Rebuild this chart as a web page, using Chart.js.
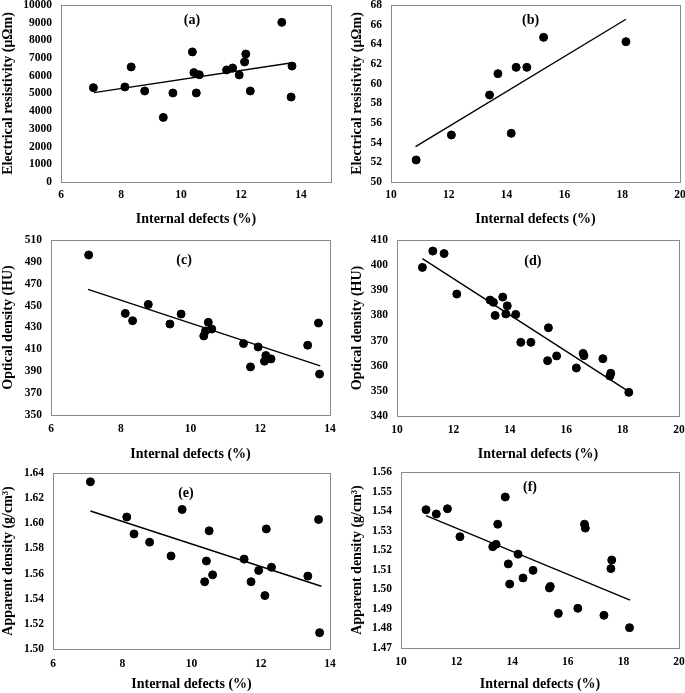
<!DOCTYPE html>
<html lang="en">
<head>
<meta charset="UTF-8">
<title>Internal defects vs. properties</title>
<script src="https://cdn.jsdelivr.net/npm/chart.js@4.4.0/dist/chart.umd.min.js"></script>
<style>
  html, body { margin: 0; padding: 0; background: #fff; overflow: hidden; }
  body { width: 685px; height: 693px; position: relative; }
  canvas { position: absolute; }
</style>
</head>
<body>
<canvas id="ca" width="342" height="228" style="left:0;top:0"></canvas>
<canvas id="cb" width="336" height="228" style="left:349px;top:0"></canvas>
<canvas id="cc" width="340" height="231" style="left:0;top:232px"></canvas>
<canvas id="cd" width="336" height="231" style="left:349px;top:232px"></canvas>
<canvas id="ce" width="340" height="228" style="left:0;top:465px"></canvas>
<canvas id="cf" width="336" height="228" style="left:349px;top:465px"></canvas>

<script>
// specimens shown in (a), (c), (e)
const defectsACE = [7.08, 8.13, 8.34, 8.79, 9.41, 9.73, 10.38, 10.43, 10.51, 10.61, 11.52, 11.72, 11.94, 12.12, 12.16, 12.31, 13.36, 13.67, 13.70];
const resistivityA = [5330, 5370, 6500, 5140, 3650, 5030, 7350, 6180, 5030, 6060, 6330, 6440, 6050, 6780, 7230, 5140, 9020, 4800, 6550];
const opticalC = [496.3, 442.9, 436.2, 451.1, 433.2, 442.3, 422.3, 426.8, 434.7, 428.6, 415.3, 394.0, 412.2, 399.2, 404.4, 401.3, 413.8, 434.1, 387.4];
const apparentE = [1.633, 1.605, 1.5915, 1.585, 1.574, 1.611, 1.5535, 1.570, 1.594, 1.559, 1.5715, 1.5535, 1.5625, 1.5425, 1.5955, 1.565, 1.558, 1.603, 1.513];

// specimens shown in (b)
const defectsB = [10.87, 12.09, 13.41, 13.70, 14.16, 14.33, 14.70, 15.28, 18.13];
const resistivityB = [52.24, 54.78, 58.85, 61.02, 54.95, 61.66, 61.66, 64.71, 64.27];

// specimens shown in (d), (f)
const defectsDF = [10.90, 11.27, 11.67, 12.12, 13.30, 13.42, 13.48, 13.75, 13.86, 13.91, 14.21, 14.39, 14.75, 15.34, 15.37, 15.66, 16.36, 16.60, 16.63, 17.30, 17.55, 17.58, 18.22];
const opticalD = [399.1, 405.6, 404.6, 388.5, 386.1, 385.2, 380.0, 387.3, 380.6, 383.8, 380.4, 369.3, 369.3, 362.0, 375.1, 363.9, 359.1, 364.9, 364.0, 362.8, 355.9, 357.0, 349.4];
const apparentF = [1.5407, 1.5385, 1.5412, 1.5269, 1.5218, 1.5230, 1.5333, 1.5472, 1.5130, 1.5027, 1.5180, 1.5058, 1.5097, 1.5007, 1.5015, 1.4877, 1.4903, 1.5333, 1.5313, 1.4867, 1.5106, 1.5150, 1.4804];

// linear trend lines, end points
const trendXA = [7.10, 13.71], trendYA = [5050, 6740];
const trendXB = [10.85, 18.13], trendYB = [53.6, 66.55];
const trendXC = [7.06, 13.72], trendYC = [464.8, 394.9];
const trendXD = [10.90, 18.18], trendYD = [402.6, 350.0];
const trendXE = [7.08, 13.75], trendYE = [1.6098, 1.5499];
const trendXF = [10.90, 18.24], trendYF = [1.5377, 1.4945];

const serif = "'Liberation Serif', 'Times New Roman', serif";
const tickFont = { family: serif, size: 11.5, weight: 'bold' };
const titleFont = { family: serif, size: 14, weight: 'bold' };

// grey box round the plot area + the (a)..(f) tag
const framePlugin = {
  id: 'frame',
  beforeDatasetsDraw(chart) {
    const { ctx, chartArea: a } = chart;
    ctx.save();
    ctx.strokeStyle = '#8a8a8a';
    ctx.lineWidth = 1;
    ctx.strokeRect(a.left + 0.5, a.top + 0.5, a.right - a.left, a.bottom - a.top);
    ctx.restore();
  },
  afterDraw(chart, args, opts) {
    const { ctx, chartArea: a } = chart;
    ctx.save();
    ctx.font = 'bold 14px ' + serif;
    ctx.fillStyle = '#000';
    ctx.textAlign = 'center';
    ctx.textBaseline = 'middle';
    ctx.fillText(opts.text, a.left + opts.fx * (a.right - a.left), a.top + opts.fy * (a.bottom - a.top));
    ctx.restore();
  }
};

function pts(xs, ys) {
  return xs.map((x, i) => ({ x: x, y: ys[i] }));
}

function makePanel(id, p) {
  new Chart(document.getElementById(id), {
    type: 'scatter',
    data: {
      datasets: [
        { data: pts(p.xs, p.ys), backgroundColor: '#000', borderColor: '#000', pointRadius: 4, pointHoverRadius: 4 },
        { data: pts(p.tx, p.ty), showLine: true, borderColor: '#000', borderWidth: 1.4, pointRadius: 0, fill: false }
      ]
    },
    options: {
      responsive: false,
      animation: false,
      layout: { padding: { top: p.pt, right: p.pr, left: 0, bottom: 0 } },
      plugins: {
        legend: { display: false },
        tooltip: { enabled: false },
        frame: { text: p.tag, fx: p.fx, fy: p.fy }
      },
      scales: {
        x: {
          type: 'linear', min: p.xmin, max: p.xmax,
          grid: { display: false, drawTicks: false },
          border: { display: false },
          ticks: { stepSize: 2, padding: p.xpad, color: '#000', font: tickFont, maxRotation: 0, autoSkip: false,
                   callback: v => (v % 2 === 0 ? v : '') },
          title: { display: true, text: 'Internal defects (%)', color: '#000', font: titleFont, padding: 0 },
          afterFit(s) { s.height = p.xh; s.paddingLeft = 0; s.paddingRight = 0; }
        },
        y: {
          type: 'linear', min: p.ymin, max: p.ymax,
          grid: { display: false, drawTicks: false },
          border: { display: false },
          ticks: { stepSize: p.ystep, padding: 9, color: '#000', font: tickFont, autoSkip: false,
                   callback: v => p.dec ? v.toFixed(p.dec) : v },
          title: { display: true, text: p.ytitle, color: '#000', font: titleFont, padding: 0 },
          afterFit(s) { s.width = p.yw; s.paddingTop = 0; s.paddingBottom = 0; }
        }
      }
    },
    plugins: [framePlugin]
  });
}

makePanel('ca', { xs: defectsACE, ys: resistivityA, tx: trendXA, ty: trendYA, tag: '(a)', fx: 0.485, fy: 0.085,
  xmin: 6, xmax: 15, ymin: 0, ymax: 10000, ystep: 1000, ytitle: 'Electrical resistivity (μΩm)',
  pt: 5, pr: 11, yw: 61, xh: 46, xpad: 6 });
makePanel('cb', { xs: defectsB, ys: resistivityB, tx: trendXB, ty: trendYB, tag: '(b)', fx: 0.483, fy: 0.085,
  xmin: 10, xmax: 20, ymin: 50, ymax: 68, ystep: 2, ytitle: 'Electrical resistivity (μΩm)',
  pt: 5, pr: 4, yw: 42, xh: 46, xpad: 6 });
makePanel('cc', { xs: defectsACE, ys: opticalC, tx: trendXC, ty: trendYC, tag: '(c)', fx: 0.477, fy: 0.114,
  xmin: 6, xmax: 14, ymin: 350, ymax: 510, ystep: 20, ytitle: 'Optical density (HU)',
  pt: 8, pr: 10, yw: 51, xh: 48, xpad: 7 });
makePanel('cd', { xs: defectsDF, ys: opticalD, tx: trendXD, ty: trendYD, tag: '(d)', fx: 0.482, fy: 0.123,
  xmin: 10, xmax: 20, ymin: 340, ymax: 410, ystep: 10, ytitle: 'Optical density (HU)',
  pt: 8, pr: 6, yw: 48, xh: 47, xpad: 7 });
makePanel('ce', { xs: defectsACE, ys: apparentE, tx: trendXE, ty: trendYE, tag: '(e)', fx: 0.48, fy: 0.115,
  xmin: 6, xmax: 14, ymin: 1.50, ymax: 1.64, ystep: 0.02, dec: 2, ytitle: 'Apparent density (g/cm³)',
  pt: 8, pr: 10, yw: 53, xh: 44, xpad: 8 });
makePanel('cf', { xs: defectsDF, ys: apparentF, tx: trendXF, ty: trendYF, tag: '(f)', fx: 0.464, fy: 0.089,
  xmin: 10, xmax: 20, ymin: 1.47, ymax: 1.56, ystep: 0.01, dec: 2, ytitle: 'Apparent density (g/cm³)',
  pt: 7, pr: 6, yw: 52, xh: 45, xpad: 7 });
</script>
</body>
</html>
